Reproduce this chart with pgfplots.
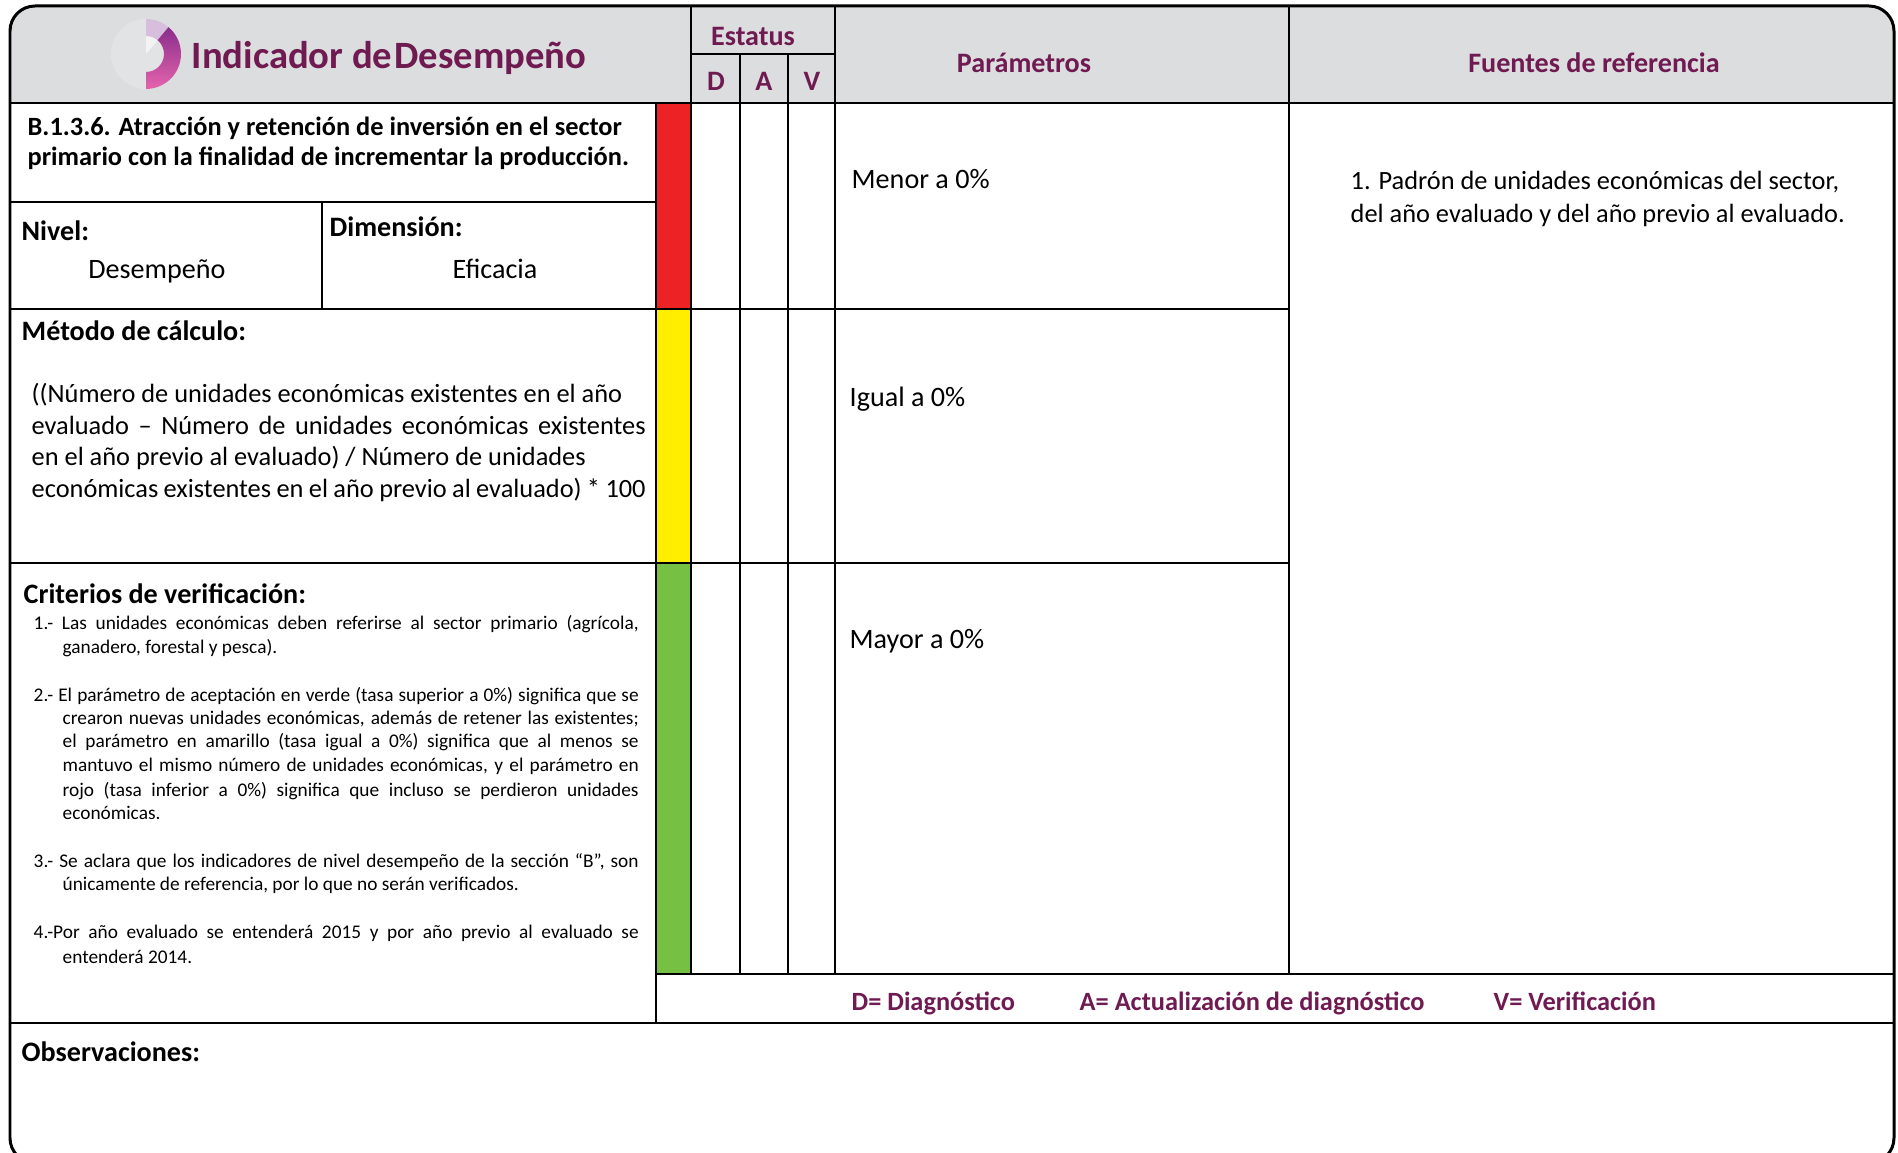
\documentclass[border=0pt]{standalone}
\usepackage{pgfplots}
\pgfplotsset{compat=1.18}
\usepackage{fontspec}
\setmainfont{Carlito}
\definecolor{hdr}{RGB}{220,221,223}
\definecolor{purp}{RGB}{112,26,82}
\definecolor{rojo}{RGB}{237,34,36}
\definecolor{amar}{RGB}{255,238,0}
\definecolor{verde}{RGB}{118,192,67}
\definecolor{logoA}{RGB}{138,46,140}
\definecolor{logoB}{RGB}{228,100,172}
\definecolor{logoL}{RGB}{214,190,220}
\newcommand{\fH}{\fontsize{11}{13}\selectfont\bfseries}
\newcommand{\fh}{\fontsize{8}{9.6}\selectfont\bfseries}
\newcommand{\fb}{\fontsize{8}{9.6}\selectfont}
\newcommand{\fm}{\fontsize{7.5}{9}\selectfont}
\newcommand{\fs}{\fontsize{5.5}{6.6}\selectfont}
\newcommand{\fbt}{\fontsize{7.5}{9}\selectfont\bfseries}
\tikzset{t/.style={anchor=west, inner sep=0pt, text height=1.5ex, text depth=.25ex},
         c/.style={anchor=center, inner sep=0pt, text height=1.5ex, text depth=.25ex}}
\begin{document}
\begin{tikzpicture}
\begin{axis}[at={(0,0)}, anchor=south west, scale only axis,
  width=18.98cm, height=11.53cm, xmin=0, xmax=1898, ymin=0, ymax=1153,
  y dir=reverse, hide axis, clip=false]
% header band
\fill[hdr] (10,103) [rounded corners=2.5mm] -- (10,6) -- (1894,6) [sharp corners] -- (1894,103) -- cycle;
% status colour bars
\addplot[fill=rojo, draw=none] coordinates {(656,103) (691,103) (691,309) (656,309) (656,103)};
\addplot[fill=amar, draw=none] coordinates {(656,309) (691,309) (691,563) (656,563) (656,309)};
\addplot[fill=verde, draw=none] coordinates {(656,563) (691,563) (691,974) (656,974) (656,563)};
% grid lines
\begin{scope}[line width=0.28mm]
\draw (10,103) -- (1894,103);
\draw (656,103) -- (656,1023);
\draw (691,6) -- (691,974);
\draw (835,6) -- (835,974);
\draw (1289,6) -- (1289,974);
\draw (691,54) -- (835,54);
\draw (10,202) -- (656,202);
\draw (322,202) -- (322,309);
\draw (10,309) -- (1289,309);
\draw (10,563) -- (1289,563);
\draw (656,974) -- (1894,974);
\draw (10,1023) -- (1894,1023);
\end{scope}
\draw[line width=0.22mm] (740,54) -- (740,974);
\draw[line width=0.22mm] (788,54) -- (788,974);
\draw[line width=0.3mm, rounded corners=2.5mm] (10,6) rectangle (1894,1163);
% header texts
\node[t, text=purp] at (191,58) {\fH Indicador de\hspace{0.06em}Desempeño};
\node[c, text=purp] at (753,35) {\fh Estatus};
\node[c, text=purp] at (716,80) {\fh D};
\node[c, text=purp] at (764,80) {\fh A};
\node[c, text=purp] at (812,80) {\fh V};
\node[c, text=purp] at (1024,62) {\fh Parámetros};
\node[c, text=purp] at (1594,62) {\fh Fuentes de referencia};
% left panel
\node[t] at (27,125) {\fbt B.1.3.6. Atracción y retención de inversión en el sector};
\node[t] at (27,155) {\fbt primario con la finalidad de incrementar la producción.};
\node[t] at (21,230) {\fh Nivel:};
\node[c] at (157,268) {\fb Desempeño};
\node[t] at (329,226) {\fh Dimensión:};
\node[c] at (495,268) {\fb Eficacia};
\node[t] at (21,330) {\fh Método de cálculo:};
\node[t] at (31,392) {\fm ((Número de unidades económicas existentes en el año};
\node[t] at (31,424) {\fm \makebox[6.14cm][s]{evaluado – Número de unidades económicas existentes}};
\node[t] at (31,455) {\fm en el año previo al evaluado) / Número de unidades};
\node[t] at (31,487) {\fm \makebox[6.14cm][s]{económicas existentes en el año previo al evaluado) * 100}};
\node[t] at (23,593) {\fh Criterios de verificación:};
\node[t] at (33,619) {\fs \makebox[6.05cm][s]{1.- Las unidades económicas deben referirse al sector primario (agrícola,}};
\node[t] at (62,643) {\fs ganadero, forestal y pesca).};
\node[t] at (33,691) {\fs \makebox[6.05cm][s]{2.- El parámetro de aceptación en verde (tasa superior a 0\%) significa que se}};
\node[t] at (62,714) {\fs \makebox[5.76cm][s]{crearon nuevas unidades económicas, además de retener las existentes;}};
\node[t] at (62,737) {\fs \makebox[5.76cm][s]{el parámetro en amarillo (tasa igual a 0\%) significa que al menos se}};
\node[t] at (62,761) {\fs \makebox[5.76cm][s]{mantuvo el mismo número de unidades económicas, y el parámetro en}};
\node[t] at (62,786) {\fs \makebox[5.76cm][s]{rojo (tasa inferior a 0\%) significa que incluso se perdieron unidades}};
\node[t] at (62,809) {\fs económicas.};
\node[t] at (33,857) {\fs \makebox[6.05cm][s]{3.- Se aclara que los indicadores de nivel desempeño de la sección “B”, son}};
\node[t] at (62,880) {\fs únicamente de referencia, por lo que no serán verificados.};
\node[t] at (33,928) {\fs \makebox[6.05cm][s]{4.-Por año evaluado se entenderá 2015 y por año previo al evaluado se}};
\node[t] at (62,953) {\fs entenderá 2014.};
% parametros
\node[t] at (851,178) {\fb Menor a 0\%};
\node[t] at (849,396) {\fb Igual a 0\%};
\node[t] at (849,638) {\fb Mayor a 0\%};
% fuentes
\node[t] at (1350,179) {\fm 1. Padrón de unidades económicas del sector,};
\node[t] at (1350,212) {\fm del año evaluado y del año previo al evaluado.};
% legend
\node[t, text=purp] at (851,1000) {\fm\bfseries D= Diagnóstico};
\node[t, text=purp] at (1079,1000) {\fm\bfseries A= Actualización de diagnóstico};
\node[t, text=purp] at (1493,1000) {\fm\bfseries V= Verificación};
% observaciones
\node[t] at (21,1051) {\fh Observaciones:};
\end{axis}
% logo
\begin{scope}[shift={(1.46,10.99)}]
\fill[white, opacity=0.18] (0,0) circle (0.35);
\fill[white, opacity=0.6] (0,0) -- (90:0.18) arc[start angle=90, end angle=50, radius=0.18] -- cycle;
\fill[logoL] (90:0.35) arc[start angle=90, end angle=50, radius=0.35] -- (50:0.18) arc[start angle=50, end angle=90, radius=0.18] -- cycle;
\shade[top color=logoA, bottom color=logoB] (50:0.35) arc[start angle=50, end angle=-90, radius=0.35] -- (-90:0.18) arc[start angle=-90, end angle=50, radius=0.18] -- cycle;
\end{scope}
\pgfresetboundingbox
\useasboundingbox (0,0) rectangle (18.98,11.53);
\end{tikzpicture}
\end{document}
